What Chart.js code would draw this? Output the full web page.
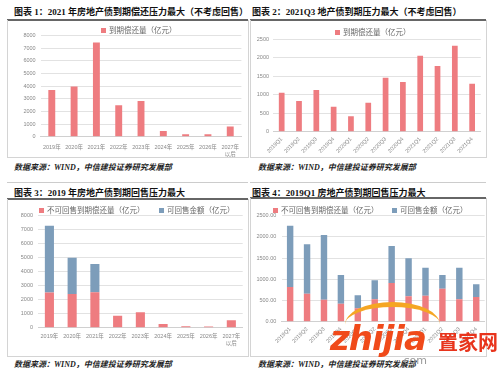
<!DOCTYPE html>
<html>
<head>
<meta charset="utf-8">
<script src="https://cdn.jsdelivr.net/npm/chart.js@4.4.1/dist/chart.umd.min.js"></script>
<style>
  body { margin: 0; background: #fff; width: 500px; height: 370px; overflow: hidden; position: relative; }
  .title { position: absolute; font: bold 9px "Liberation Serif", "Noto Sans CJK SC"; color: #111; white-space: nowrap; }
  .rule  { position: absolute; height: 1.5px; background: #666; }
  .box   { position: absolute; border: 1px solid #d4d4d4; border-top: none; }
  .src   { position: absolute; font: italic bold 8px "Liberation Serif", "Noto Sans CJK SC"; color: #222; white-space: nowrap; }
  .line  { position: absolute; height: 1px; background: #ccc; }
  .leg   { position: absolute; font: 7.5px "Noto Sans CJK SC"; color: #666; white-space: nowrap; line-height: 9px; }
  .leg i { display: inline-block; width: 5px; height: 5px; margin-right: 3px; vertical-align: 0px; }
  .wm    { position: absolute; white-space: nowrap; }
</style>
</head>
<body>

<div class="title" style="left:14px;top:5px">图表 1：2021 年房地产债到期偿还压力最大（不考虑回售）</div>
<div class="rule" style="left:7px;top:19px;width:241px"></div>
<div class="box" style="left:7px;top:20px;width:240px;height:137px"><div style="position:relative;width:240px;height:137px"><canvas id="c1"></canvas></div></div>
<div class="src" style="left:14px;top:161px">数据来源：WIND，中信建投证券研究发展部</div>
<div class="line" style="left:7px;top:182px;width:241px"></div>

<div class="title" style="left:252px;top:5px">图表 2：2021Q3 地产债到期压力最大（不考虑回售）</div>
<div class="rule" style="left:250px;top:19px;width:236px"></div>
<div class="box" style="left:250px;top:20px;width:235px;height:137px"><div style="position:relative;width:235px;height:137px"><canvas id="c2"></canvas></div></div>
<div class="src" style="left:258px;top:161px">数据来源：WIND，中信建投证券研究发展部</div>
<div class="line" style="left:250px;top:182px;width:236px"></div>

<div class="title" style="left:14px;top:186px">图表 3：2019 年房地产债到期回售压力最大</div>
<div class="rule" style="left:7px;top:198px;width:241px"></div>
<div class="box" style="left:7px;top:199px;width:240px;height:157px"><div style="position:relative;width:240px;height:157px"><canvas id="c3"></canvas></div></div>
<div class="src" style="left:14px;top:358px">数据来源：WIND，中信建投证券研究发展部</div>

<div class="title" style="left:252px;top:186px">图表 4：2019Q1 房地产债到期回售压力最大</div>
<div class="rule" style="left:250px;top:197px;width:236px"></div>
<div class="box" style="left:250px;top:198px;width:235px;height:158px"><div style="position:relative;width:235px;height:158px"><canvas id="c4"></canvas></div></div>
<div class="src" style="left:258px;top:358px">数据来源：WIND，中信建投证券研究发展部</div>

<div id="legends"></div>

<div class="wm" style="left:345px;top:302px;width:95px;height:40px;border-top:5px solid #f5a623;border-radius:50% 50% 0 0"></div>
<div class="wm" style="left:330px;top:318px;font:italic bold 34px 'DejaVu Sans';color:#f04a1a;letter-spacing:-1px">zhijia</div>
<div class="wm" style="left:438px;top:327px;font:bold 20px 'Noto Sans CJK SC';color:#e8341c">置家网</div>
<div class="wm" style="left:400px;top:354px;font:11px 'DejaVu Sans';color:#999">.com</div>

<script>
// ── data ─────────────────────────────────────────────────────────
const years    = ["2019年", "2020年", "2021年", "2022年", "2023年", "2024年", "2025年", "2026年", ["2027年", "以后"]];
const quarters = ["2019Q1", "2019Q2", "2019Q3", "2019Q4", "2020Q1", "2020Q2", "2020Q3", "2020Q4",
                  "2021Q1", "2021Q2", "2021Q3", "2021Q4"];

const dueByYear     = [3700, 3970, 7460, 2500, 2830, 450, 200, 200, 800];
const dueByQuarter  = [1055, 830, 1128, 676, 416, 785, 1461, 1345, 2056, 1778, 2327, 1299];

const nonPutByYear  = [2490, 2390, 2510, 850, 1090, 260, 100, 80, 520];
const putByYear     = [4750, 2580, 2010, 0, 0, 0, 0, 0, 0];

const nonPutByQuarter = [818, 660, 519, 425, 316, 528, 913, 599, 610, 778, 528, 582];
const putByQuarter    = [1446, 1165, 1526, 676, 307, 448, 872, 896, 664, 323, 746, 300];

const RED  = "#ee7c80";
const BLUE = "#7d9dba";
const FONT = "'Liberation Sans', 'Noto Sans CJK SC', sans-serif";

function makeChart(id, labels, datasets, o) {
  return new Chart(document.getElementById(id), {
    type: "bar",
    data: { labels, datasets },
    options: {
      responsive: true,
      maintainAspectRatio: false,
      animation: false,
      layout: { padding: o.pad },
      plugins: { legend: { display: false }, tooltip: { enabled: false } },
      scales: {
        x: {
          stacked: true,
          grid: { display: false, drawTicks: false },
          border: { color: "#d0d0d0" },
          ticks: {
            color: "#888", font: { size: 5.5, family: FONT, lineHeight: 1.3 },
            maxRotation: o.rot || 0, minRotation: o.rot || 0, autoSkip: false, padding: o.xPad || 4,
          },
          afterFit: s => { s.height = o.xh; },
        },
        y: {
          stacked: true,
          min: 0, max: o.max,
          ticks: {
            stepSize: o.step, autoSkip: false, color: "#888", font: { size: 5.5, family: FONT },
            padding: o.yPad, callback: o.fmt || (v => v),
          },
          grid: { color: "#e2e2e2", drawTicks: false },
          border: { display: false },
        },
      },
    },
  });
}

function barSet(label, data, color, pct) {
  return { label, data, backgroundColor: color, barPercentage: pct, categoryPercentage: 1 };
}

// simple html legend built from the chart's datasets
function legend(chart, xs, y) {
  chart.data.datasets.forEach((d, i) => {
    const el = document.createElement("div");
    el.className = "leg";
    el.style.left = xs[i] + "px";
    el.style.top = (y - 4.5) + "px";
    el.innerHTML = `<i style="background:${d.backgroundColor}"></i>${d.label}`;
    document.getElementById("legends").appendChild(el);
  });
}

const c1 = makeChart("c1", years, [barSet("到期偿还量（亿元）", dueByYear, RED, 0.31)],
  { max: 8000, step: 1000, yPad: 5, xh: 20.3, xPad: 7, pad: { top: 15.7, right: 6.6, bottom: 0, left: 10.4 } });
legend(c1, [101], 29);

const c2 = makeChart("c2", quarters, [barSet("到期偿还量（亿元）", dueByQuarter, RED, 0.33)],
  { max: 2500, step: 500, rot: 45, yPad: 4, xh: 25.3, pad: { top: 19.3, right: 5.2, bottom: 0, left: 1.8 } });
legend(c2, [335], 31);

const c3 = makeChart("c3", years, [
    barSet("不可回售到期偿还量（亿元）", nonPutByYear, RED, 0.4),
    barSet("可回售金额（亿元）", putByYear, BLUE, 0.4),
  ],
  { max: 8000, step: 1000, yPad: 5, xh: 28.3, xPad: 5, pad: { top: 16, right: 5.3, bottom: 0, left: 7.8 } });
legend(c3, [39, 159], 209);

const c4 = makeChart("c4", quarters, [
    barSet("不可回售到期偿还量（亿元）", nonPutByQuarter, RED, 0.38),
    barSet("可回售金额（亿元）", putByQuarter, BLUE, 0.38),
  ],
  { max: 2500, step: 500, rot: 45, yPad: 5.4, xh: 34.3, fmt: v => v.toFixed(2),
    pad: { top: 17.7, right: 1.3, bottom: 0, left: 0 } });
legend(c4, [273, 392], 209);
</script>
</body>
</html>
